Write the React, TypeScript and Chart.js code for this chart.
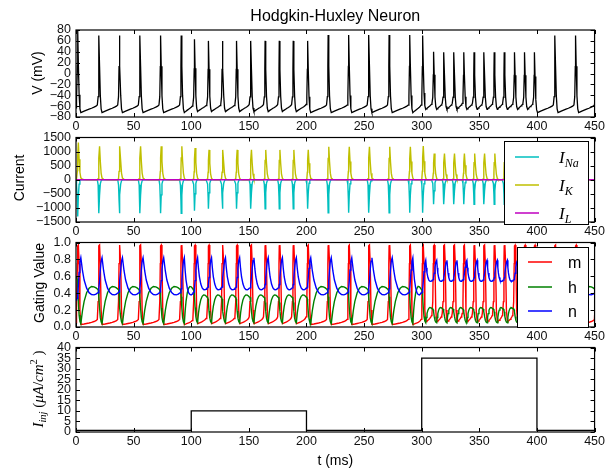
import React, { useEffect, useRef } from "react";
import { Chart, registerables } from "chart.js";

Chart.register(...registerables);

// ---------------- values ----------------
const tMin = 0;
const tMax = 450;
const tStep = 50;

// times (ms) of the action-potential peaks (last one lies just past the axis end)
const spikeTimes = [
  1.5, 19.9, 37.6, 55.5, 73.4, 91.3,
  102.8, 114.9, 127.0, 139.3, 151.7, 164.1, 176.4, 188.5, 201.0,
  218.8, 236.6, 254.1, 271.7, 289.6,
  300.8, 310.3, 319.2, 327.9, 336.5, 345.4, 354.0, 362.9, 371.6, 380.5, 389.2, 397.8,
  415.6, 433.5, 451.3,
];
// peak membrane potential of each spike (mV)
const spikePeakV = [
  78, 70, 70, 70, 70, 70,
  63, 60, 60, 60, 60, 60, 60, 60, 60,
  71, 71, 71, 71, 71,
  70, 40, 39, 39, 39, 39, 39, 39, 39, 39, 39, 39,
  70, 70, 70,
];
// most negative sodium current of each spike
const spikePeakINa = [
  -1300, -1190, -1190, -1190, -1190, -1190,
  -1100, -1030, -1030, -1030, -1030, -1030, -1030, -1030, -1030,
  -1170, -1170, -1170, -1170, -1170,
  -1170, -870, -870, -870, -870, -870, -870, -870, -870, -870, -870, -870,
  -1190, -1190, -1190,
];
// largest potassium current of each spike
const spikePeakIK = [
  1320, 1190, 1190, 1190, 1190, 1190,
  1130, 1060, 1060, 1060, 1060, 1060, 1060, 1060, 1060,
  1170, 1170, 1170, 1170, 1170,
  1200, 930, 930, 930, 930, 930, 930, 930, 930, 930, 930, 930,
  1190, 1190, 1190,
];

// stimulus phases and the resting levels seen in each of them
const phaseStarts = [0, 100, 200, 300, 400];
const phaseVTrough = [-72, -70, -72, -66, -72];
const phaseVPre = [-58, -57, -58, -55, -58];
const phaseMMin = [0.03, 0.04, 0.03, 0.06, 0.03];
const phaseMPre = [0.09, 0.12, 0.09, 0.16, 0.09];
const phaseHMin = [0.04, 0.05, 0.04, 0.05, 0.04];
const phaseHMax = [0.48, 0.38, 0.48, 0.23, 0.48];
const phaseNMax = [0.82, 0.82, 0.82, 0.79, 0.82];
const phaseNMin = [0.38, 0.44, 0.38, 0.54, 0.38];

// values at t = 0
const startV = -63;
const startM = 0.05;
const startH = 0.6;
const startN = 0.32;

// injected current (step function)
const iinjTimes = [0, 100, 200, 300, 400, 450];
const iinjValues = [0.8, 10, 0.8, 35, 0.8, 0.8];

// leak current (flat at this scale)
const iLTimes = [0, 450];
const iLValues = [0, 0];

// shape of one spike (ms relative to the peak)
const spikeOffsets = [-1.4, -0.7, -0.25, 0, 0.55, 1.2, 1.9, 2.7];
const vSpikeFrac = [0, 0.12, 0.55, 1, 0.6, 0.22, 0.05, 0];
const mSpikeMid = [0.3, 0.75, 0.96, 0.97, 0.75, 0.2];
const hSpikeFrac = [1, 0.98, 0.92, 0.78, 0.45, 0.18, 0.05, 0];
const nSpikeFrac = [0, 0.01, 0.04, 0.12, 0.35, 0.65, 0.9, 1];
const naSpikeFrac = [0, 0.15, 0.6, 1, 0.45, 0.12, 0.03, 0];
const kSpikeFrac = [0, 0.03, 0.25, 0.65, 1, 0.55, 0.2, 0.05];

// shape of the recovery between two spikes (fraction of the interval)
const recoveryFrac = [0, 0.1, 0.2, 0.35, 0.5, 0.65, 0.8, 0.92, 1];
const vRecovery = [0, 0.1, 0.2, 0.33, 0.46, 0.58, 0.72, 0.85, 1];
const mRecovery = [0, 0.05, 0.1, 0.2, 0.3, 0.42, 0.58, 0.75, 1];
const hRecovery = [0, 0.35, 0.6, 0.83, 0.95, 1, 0.99, 0.96, 0.93];
const nRecovery = [0, 0.35, 0.6, 0.82, 0.94, 0.99, 1, 0.98, 0.95];
const kRecovery = [0.05, 0.012, 0.004, 0, 0, 0, 0, 0, 0];

// ---------------- assemble the series ----------------
type Pt = { x: number; y: number };

function phaseOf(t: number) {
  let p = 0;
  for (let i = 0; i < phaseStarts.length; i++) if (t >= phaseStarts[i]) p = i;
  return p;
}

function buildTraces() {
  const V: Pt[] = [], M: Pt[] = [], H: Pt[] = [], N: Pt[] = [], NA: Pt[] = [], K: Pt[] = [];
  const push = (t: number, v: number, m: number, h: number, n: number, na: number, k: number) => {
    V.push({ x: t, y: v });
    M.push({ x: t, y: m });
    H.push({ x: t, y: h });
    N.push({ x: t, y: n });
    NA.push({ x: t, y: na });
    K.push({ x: t, y: k });
  };
  let pre = { v: startV, m: startM, h: startH, n: startN };
  push(0, startV, startM, startH, startN, 0, 0);
  const last = spikeOffsets.length - 1;
  for (let k = 0; k < spikeTimes.length; k++) {
    const s = spikeTimes[k];
    const hasNext = k + 1 < spikeTimes.length;
    const next = hasNext ? spikeTimes[k + 1] : s + 17.8;
    const p = phaseOf((s + next) / 2);
    const pv = spikePeakV[k];
    for (let j = 0; j <= last; j++) {
      const t = Math.max(0.05, s + spikeOffsets[j]);
      const v = j <= 3
        ? pre.v + vSpikeFrac[j] * (pv - pre.v)
        : phaseVTrough[p] + vSpikeFrac[j] * (pv - phaseVTrough[p]);
      const m = j === 0 ? pre.m : j === last ? phaseMMin[p] : mSpikeMid[j - 1];
      const h = phaseHMin[p] + hSpikeFrac[j] * (pre.h - phaseHMin[p]);
      const n = pre.n + nSpikeFrac[j] * (phaseNMax[p] - pre.n);
      push(t, v, m, h, n, naSpikeFrac[j] * spikePeakINa[k], kSpikeFrac[j] * spikePeakIK[k]);
    }
    if (!hasNext) break;
    const t0 = s + spikeOffsets[last];
    const t1 = next + spikeOffsets[0];
    const L = recoveryFrac.length - 1;
    const val = (j: number) => ({
      v: phaseVTrough[p] + vRecovery[j] * (phaseVPre[p] - phaseVTrough[p]),
      m: phaseMMin[p] + mRecovery[j] * (phaseMPre[p] - phaseMMin[p]),
      h: phaseHMin[p] + hRecovery[j] * (phaseHMax[p] - phaseHMin[p]),
      n: phaseNMax[p] - nRecovery[j] * (phaseNMax[p] - phaseNMin[p]),
    });
    for (let j = 1; j < L; j++) {
      const t = t0 + recoveryFrac[j] * (t1 - t0);
      const c = val(j);
      push(t, c.v, c.m, c.h, c.n, 0, kRecovery[j] * spikePeakIK[k]);
    }
    pre = val(L);
  }
  return { V, M, H, N, NA, K };
}

const traces = buildTraces();
const pairs = (xs: number[], ys: number[]) => xs.map((x, i) => ({ x, y: ys[i] }));

// ---------------- drawing helpers ----------------
const SANS = "'Liberation Sans', Arial, sans-serif";
const SERIF = "'Liberation Serif', 'DejaVu Serif', serif";

type Piece = { text: string; font: string; dy?: number };

function drawPieces(ctx: CanvasRenderingContext2D, pieces: Piece[], x: number, y: number, center: boolean) {
  let w = 0;
  for (const p of pieces) {
    ctx.font = p.font;
    w += ctx.measureText(p.text).width;
  }
  let cx = center ? x - w / 2 : x;
  for (const p of pieces) {
    ctx.font = p.font;
    ctx.fillText(p.text, cx, y + (p.dy || 0));
    cx += ctx.measureText(p.text).width;
  }
}

type LegendItem = { pieces: Piece[]; color: string; y: number };
type PanelCfg = {
  key: string;
  canvasTop: number;
  canvasH: number;
  padTop: number;
  xH: number;
  yMin: number;
  yMax: number;
  yStep: number;
  fmt: (v: number) => string;
  yLabel: { pieces: Piece[]; x: number; y: number };
  title?: string;
  xLabel?: string;
  legend?: { x: number; y: number; w: number; h: number; sx0: number; sx1: number; tx: number; items: LegendItem[] };
  datasets: { data: Pt[]; color: string; order: number; stepped?: boolean; width?: number }[];
};

function mplPlugin(p: PanelCfg) {
  return {
    id: "mpl_" + p.key,
    afterDraw(chart: any) {
      const ctx: CanvasRenderingContext2D = chart.ctx;
      const a = chart.chartArea;
      const xs = chart.scales.x;
      const ys = chart.scales.y;
      const off = p.canvasTop;
      ctx.save();
      ctx.strokeStyle = "#000";
      ctx.lineWidth = 1;
      ctx.beginPath();
      for (const t of xs.ticks) {
        const px = Math.round(xs.getPixelForValue(t.value)) + 0.5;
        ctx.moveTo(px, a.bottom);
        ctx.lineTo(px, a.bottom - 4);
        ctx.moveTo(px, a.top);
        ctx.lineTo(px, a.top + 4);
      }
      for (const t of ys.ticks) {
        const py = Math.round(ys.getPixelForValue(t.value)) + 0.5;
        ctx.moveTo(a.left, py);
        ctx.lineTo(a.left + 4, py);
        ctx.moveTo(a.right, py);
        ctx.lineTo(a.right - 4, py);
      }
      ctx.stroke();
      ctx.lineWidth = 1.2;
      ctx.strokeRect(a.left, a.top, a.right - a.left, a.bottom - a.top);

      // legend
      if (p.legend) {
        const L = p.legend;
        ctx.fillStyle = "#fff";
        ctx.fillRect(L.x, L.y - off, L.w, L.h);
        ctx.lineWidth = 1;
        ctx.strokeStyle = "#000";
        ctx.strokeRect(L.x + 0.5, L.y - off + 0.5, L.w, L.h);
        for (const it of L.items) {
          ctx.strokeStyle = it.color;
          ctx.lineWidth = 1.5;
          ctx.beginPath();
          ctx.moveTo(L.sx0, it.y - off);
          ctx.lineTo(L.sx1, it.y - off);
          ctx.stroke();
          ctx.fillStyle = "#000";
          ctx.textAlign = "left";
          ctx.textBaseline = "alphabetic";
          drawPieces(ctx, it.pieces, L.tx, it.y - off + 5.5, false);
        }
      }

      // y label
      ctx.fillStyle = "#000";
      ctx.textAlign = "left";
      ctx.textBaseline = "alphabetic";
      ctx.save();
      ctx.translate(p.yLabel.x, p.yLabel.y - off);
      ctx.rotate(-Math.PI / 2);
      drawPieces(ctx, p.yLabel.pieces, 0, 5, true);
      ctx.restore();

      if (p.title) {
        ctx.font = `16px ${SANS}`;
        ctx.textAlign = "center";
        ctx.textBaseline = "alphabetic";
        ctx.fillText(p.title, (a.left + a.right) / 2, 21 - off);
      }
      if (p.xLabel) {
        ctx.font = `14px ${SANS}`;
        ctx.textAlign = "center";
        ctx.textBaseline = "alphabetic";
        ctx.fillText(p.xLabel, (a.left + a.right) / 2, 465 - off);
      }
      ctx.restore();
    },
  };
}

function makeConfig(p: PanelCfg): any {
  const tickFont = { family: SANS, size: 12.5 };
  return {
    type: "line",
    data: {
      datasets: p.datasets.map((d) => ({
        data: d.data,
        borderColor: d.color,
        backgroundColor: d.color,
        borderWidth: d.width ?? 1.4,
        pointRadius: 0,
        tension: 0,
        fill: false,
        order: d.order,
        stepped: d.stepped ?? false,
      })),
    },
    options: {
      responsive: false,
      maintainAspectRatio: false,
      animation: false,
      devicePixelRatio: 1,
      events: [],
      layout: { padding: { top: p.padTop, right: 10, left: 0, bottom: 0 } },
      plugins: { legend: { display: false }, tooltip: { enabled: false }, title: { display: false } },
      scales: {
        x: {
          type: "linear",
          min: tMin,
          max: tMax,
          afterFit: (s: any) => {
            s.height = p.xH;
          },
          ticks: { stepSize: tStep, autoSkip: false, maxRotation: 0, minRotation: 0, padding: 2, color: "#111", font: tickFont },
          grid: { display: false, drawTicks: false },
          border: { display: false },
        },
        y: {
          type: "linear",
          min: p.yMin,
          max: p.yMax,
          afterFit: (s: any) => {
            s.width = 76;
          },
          ticks: { stepSize: p.yStep, autoSkip: false, padding: 5, color: "#111", font: tickFont, callback: (v: any) => p.fmt(Number(v)) },
          grid: { display: false, drawTicks: false },
          border: { display: false },
        },
      },
    },
    plugins: [mplPlugin(p)],
  };
}

const minusFmt = (v: number) => (v < 0 ? "\u2212" + Math.abs(Math.round(v)) : String(Math.round(v)));

const sansLabel = (t: string): Piece[] => [{ text: t, font: `14px ${SANS}` }];
const mathI = (sub: string): Piece[] => [
  { text: "I", font: `italic 17px ${SERIF}` },
  { text: sub, font: `italic 12px ${SERIF}`, dy: 4 },
];

const panels: PanelCfg[] = [
  {
    key: "v",
    canvasTop: 0,
    canvasH: 139,
    padTop: 30,
    xH: 22,
    yMin: -80,
    yMax: 80,
    yStep: 20,
    fmt: minusFmt,
    yLabel: { pieces: sansLabel("V (mV)"), x: 37, y: 73 },
    title: "Hodgkin-Huxley Neuron",
    datasets: [{ data: traces.V, color: "#000", order: 0, width: 1.3 }],
  },
  {
    key: "i",
    canvasTop: 125,
    canvasH: 119,
    padTop: 10,
    xH: 22,
    yMin: -1500,
    yMax: 1500,
    yStep: 500,
    fmt: minusFmt,
    yLabel: { pieces: sansLabel("Current"), x: 19, y: 178 },
    legend: {
      x: 504, y: 141, w: 84, h: 83, sx0: 515, sx1: 539, tx: 559,
      items: [
        { pieces: mathI("Na"), color: "#00bfbf", y: 157 },
        { pieces: mathI("K"), color: "#bfbf00", y: 185 },
        { pieces: mathI("L"), color: "#bf00bf", y: 213 },
      ],
    },
    datasets: [
      { data: traces.NA, color: "#00bfbf", order: 2 },
      { data: traces.K, color: "#bfbf00", order: 1 },
      { data: pairs(iLTimes, iLValues), color: "#bf00bf", order: 0 },
    ],
  },
  {
    key: "g",
    canvasTop: 230,
    canvasH: 119,
    padTop: 10,
    xH: 22,
    yMin: 0,
    yMax: 1,
    yStep: 0.2,
    fmt: (v: number) => v.toFixed(1),
    yLabel: { pieces: sansLabel("Gating Value"), x: 39, y: 283 },
    legend: {
      x: 517, y: 247, w: 71, h: 80, sx0: 528, sx1: 552, tx: 568,
      items: [
        { pieces: [{ text: "m", font: `16px ${SANS}` }], color: "#ff0000", y: 262 },
        { pieces: [{ text: "h", font: `16px ${SANS}` }], color: "#008000", y: 287 },
        { pieces: [{ text: "n", font: `16px ${SANS}` }], color: "#0000ff", y: 311 },
      ],
    },
    datasets: [
      { data: traces.M, color: "#ff0000", order: 2 },
      { data: traces.H, color: "#008000", order: 1 },
      { data: traces.N, color: "#0000ff", order: 0 },
    ],
  },
  {
    key: "inj",
    canvasTop: 335,
    canvasH: 135,
    padTop: 10,
    xH: 38,
    yMin: 0,
    yMax: 40,
    yStep: 5,
    fmt: (v: number) => String(Math.round(v)),
    yLabel: {
      pieces: [
        { text: "I", font: `italic 15px ${SERIF}` },
        { text: "inj", font: `italic 10.5px ${SERIF}`, dy: 3 },
        { text: " (", font: `15px ${SERIF}` },
        { text: "\u03bcA", font: `italic 15px ${SERIF}` },
        { text: "/", font: `15px ${SERIF}` },
        { text: "cm", font: `italic 15px ${SERIF}` },
        { text: "2", font: `10.5px ${SERIF}`, dy: -6 },
        { text: " )", font: `15px ${SERIF}` },
      ],
      x: 38,
      y: 389,
    },
    xLabel: "t (ms)",
    datasets: [{ data: pairs(iinjTimes, iinjValues), color: "#000", order: 0, stepped: true, width: 1.3 }],
  },
];

function Panel({ cfg }: { cfg: PanelCfg }) {
  const ref = useRef<HTMLCanvasElement | null>(null);
  useEffect(() => {
    if (!ref.current) return;
    const chart = new Chart(ref.current, makeConfig(cfg));
    return () => chart.destroy();
  }, [cfg]);
  return (
    <canvas
      ref={ref}
      width={607}
      height={cfg.canvasH}
      style={{ position: "absolute", left: 0, top: cfg.canvasTop, width: 607, height: cfg.canvasH }}
    />
  );
}

export default function App() {
  return (
    <div style={{ position: "fixed", left: 0, top: 0, width: 607, height: 470, background: "#fff", overflow: "hidden" }}>
      {panels.map((p) => (
        <Panel key={p.key} cfg={p} />
      ))}
    </div>
  );
}
